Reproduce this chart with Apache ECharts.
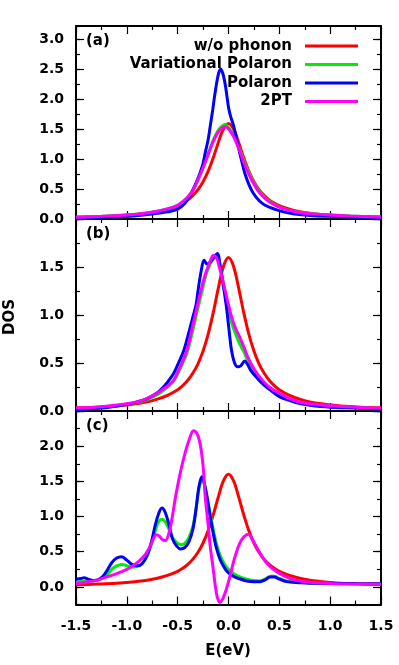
<!DOCTYPE html>
<html><head><meta charset="utf-8">
<script src="https://cdn.jsdelivr.net/npm/echarts@6/dist/echarts.min.js"></script>
<style>html,body{margin:0;padding:0;background:#fff}#c{width:399px;height:665px}</style>
</head><body><div id="c"></div>
<script>
// ---------- data (E in eV, DOS) ----------
const seriesNames = ['w/o phonon', 'Variational Polaron', 'Polaron', '2PT'];
const xTicks = [-1.5, -1.0, -0.5, 0.0, 0.5, 1.0, 1.5];
const yLabelsA = [0.0, 0.5, 1.0, 1.5, 2.0, 2.5, 3.0];
const yLabelsB = [0.0, 0.5, 1.0, 1.5];
const yLabelsC = [0.0, 0.5, 1.0, 1.5, 2.0];

// w/o phonon (same in all panels)
const redDOS = [[-1.5,0.03],[-1.3,0.04],[-1.1,0.052],[-1.0,0.063],[-0.9,0.077],[-0.8,0.095],[-0.7,0.123],[-0.6,0.163],[-0.5,0.222],[-0.45,0.265],[-0.4,0.32],[-0.35,0.395],[-0.3,0.492],[-0.25,0.624],[-0.2,0.8],[-0.15,1.024],[-0.1,1.28],[-0.05,1.506],[0,1.6],[0.05,1.506],[0.1,1.28],[0.15,1.024],[0.2,0.8],[0.25,0.624],[0.3,0.492],[0.35,0.395],[0.4,0.32],[0.45,0.265],[0.5,0.222],[0.6,0.163],[0.7,0.123],[0.8,0.095],[0.9,0.077],[1.0,0.063],[1.1,0.052],[1.3,0.04],[1.5,0.033]];

// panel (a)
const aGreen = [[-1.5,0.03],[-1.25,0.045],[-1.0,0.065],[-0.8,0.1],[-0.7,0.13],[-0.6,0.17],[-0.5,0.23],[-0.45,0.29],[-0.4,0.37],[-0.35,0.48],[-0.3,0.66],[-0.25,0.86],[-0.2,1.09],[-0.15,1.32],[-0.1,1.49],[-0.05,1.57],[-0.03,1.58],[0,1.53],[0.05,1.41],[0.1,1.21],[0.15,0.98],[0.2,0.78],[0.25,0.6],[0.3,0.47],[0.35,0.37],[0.4,0.3],[0.5,0.2],[0.6,0.145],[0.7,0.11],[0.8,0.09],[1.0,0.065],[1.2,0.05],[1.5,0.035]];
const aBlue = [[-1.5,0.02],[-1.25,0.03],[-1.0,0.045],[-0.8,0.075],[-0.7,0.095],[-0.6,0.12],[-0.5,0.165],[-0.43,0.26],[-0.39,0.36],[-0.35,0.49],[-0.31,0.64],[-0.28,0.77],[-0.25,0.93],[-0.23,1.1],[-0.2,1.33],[-0.18,1.55],[-0.155,1.83],[-0.133,2.1],[-0.1,2.42],[-0.077,2.51],[-0.055,2.43],[-0.034,2.27],[-0.015,2.05],[0,1.87],[0.02,1.72],[0.047,1.58],[0.07,1.42],[0.096,1.21],[0.13,0.97],[0.16,0.77],[0.2,0.58],[0.244,0.43],[0.3,0.31],[0.36,0.23],[0.46,0.16],[0.55,0.115],[0.65,0.085],[0.8,0.06],[1.0,0.045],[1.2,0.035],[1.5,0.025]];
const aMagenta = [[-1.5,0.03],[-1.25,0.045],[-1.0,0.065],[-0.8,0.1],[-0.7,0.13],[-0.6,0.17],[-0.5,0.23],[-0.45,0.29],[-0.4,0.37],[-0.35,0.48],[-0.3,0.66],[-0.25,0.86],[-0.2,1.08],[-0.15,1.3],[-0.1,1.46],[-0.05,1.54],[-0.03,1.55],[0,1.51],[0.05,1.38],[0.1,1.18],[0.15,0.95],[0.2,0.75],[0.25,0.58],[0.3,0.45],[0.35,0.36],[0.4,0.29],[0.5,0.2],[0.6,0.145],[0.7,0.11],[0.8,0.09],[1.0,0.065],[1.2,0.05],[1.5,0.035]];

// panel (b)
const bGreen = [[-1.5,0.025],[-1.25,0.04],[-1.0,0.07],[-0.85,0.1],[-0.7,0.17],[-0.6,0.25],[-0.54,0.31],[-0.48,0.43],[-0.41,0.6],[-0.36,0.8],[-0.31,1.03],[-0.26,1.25],[-0.22,1.42],[-0.18,1.53],[-0.15,1.59],[-0.12,1.63],[-0.09,1.55],[-0.05,1.33],[-0.01,1.1],[0.03,0.92],[0.07,0.8],[0.11,0.7],[0.15,0.62],[0.19,0.52],[0.24,0.42],[0.3,0.33],[0.4,0.24],[0.5,0.17],[0.6,0.12],[0.7,0.085],[0.8,0.07],[1.0,0.05],[1.25,0.035],[1.5,0.025]];
const bBlue = [[-1.5,0.015],[-1.25,0.03],[-1.0,0.07],[-0.9,0.095],[-0.8,0.13],[-0.7,0.19],[-0.64,0.25],[-0.6,0.3],[-0.54,0.39],[-0.5,0.48],[-0.44,0.63],[-0.4,0.78],[-0.35,0.98],[-0.32,1.1],[-0.3,1.25],[-0.27,1.45],[-0.24,1.57],[-0.21,1.53],[-0.18,1.55],[-0.14,1.6],[-0.11,1.64],[-0.08,1.5],[-0.05,1.3],[-0.02,1.08],[0.01,0.8],[0.03,0.63],[0.06,0.5],[0.09,0.46],[0.12,0.47],[0.16,0.52],[0.19,0.48],[0.22,0.42],[0.26,0.37],[0.3,0.32],[0.35,0.27],[0.41,0.22],[0.5,0.15],[0.6,0.11],[0.7,0.077],[0.8,0.06],[1.0,0.04],[1.25,0.03],[1.5,0.02]];
const bMagenta = [[-1.5,0.03],[-1.25,0.045],[-1.0,0.075],[-0.85,0.11],[-0.71,0.18],[-0.6,0.26],[-0.54,0.32],[-0.48,0.45],[-0.41,0.63],[-0.36,0.85],[-0.31,1.08],[-0.26,1.3],[-0.22,1.45],[-0.18,1.56],[-0.15,1.62],[-0.12,1.6],[-0.09,1.5],[-0.05,1.33],[-0.01,1.15],[0.03,0.98],[0.07,0.86],[0.11,0.77],[0.15,0.67],[0.19,0.56],[0.25,0.44],[0.31,0.35],[0.4,0.25],[0.51,0.18],[0.6,0.13],[0.7,0.094],[0.8,0.075],[1.0,0.055],[1.25,0.04],[1.5,0.03]];

// panel (c)
const cGreen = [[-1.5,0.07],[-1.4,0.08],[-1.3,0.09],[-1.2,0.16],[-1.15,0.25],[-1.1,0.3],[-1.05,0.32],[-1.0,0.3],[-0.95,0.28],[-0.9,0.29],[-0.85,0.33],[-0.8,0.44],[-0.76,0.6],[-0.72,0.8],[-0.69,0.92],[-0.655,0.96],[-0.62,0.92],[-0.58,0.8],[-0.55,0.7],[-0.51,0.63],[-0.47,0.6],[-0.43,0.62],[-0.39,0.7],[-0.35,0.86],[-0.32,1.1],[-0.29,1.4],[-0.26,1.53],[-0.23,1.42],[-0.2,1.2],[-0.18,1.04],[-0.15,0.82],[-0.12,0.62],[-0.08,0.44],[-0.03,0.3],[0.0,0.25],[0.05,0.19],[0.1,0.15],[0.18,0.11],[0.25,0.09],[0.31,0.085],[0.36,0.11],[0.41,0.15],[0.45,0.15],[0.5,0.12],[0.57,0.085],[0.7,0.065],[0.8,0.055],[1.0,0.05],[1.25,0.047],[1.5,0.045]];
const cBlue = [[-1.5,0.11],[-1.45,0.12],[-1.42,0.13],[-1.38,0.11],[-1.32,0.09],[-1.25,0.13],[-1.2,0.22],[-1.15,0.34],[-1.1,0.41],[-1.05,0.43],[-1.0,0.38],[-0.95,0.32],[-0.9,0.3],[-0.85,0.33],[-0.8,0.45],[-0.76,0.63],[-0.72,0.88],[-0.69,1.03],[-0.655,1.12],[-0.62,1.05],[-0.58,0.85],[-0.55,0.68],[-0.51,0.58],[-0.47,0.54],[-0.43,0.56],[-0.39,0.64],[-0.35,0.82],[-0.32,1.1],[-0.29,1.43],[-0.26,1.57],[-0.23,1.42],[-0.2,1.18],[-0.18,1.0],[-0.15,0.76],[-0.12,0.56],[-0.08,0.38],[-0.03,0.25],[0.0,0.2],[0.05,0.15],[0.1,0.12],[0.18,0.085],[0.25,0.075],[0.31,0.075],[0.36,0.1],[0.41,0.14],[0.45,0.14],[0.5,0.11],[0.57,0.075],[0.7,0.06],[0.8,0.052],[1.0,0.05],[1.25,0.047],[1.5,0.045]];
const cMagenta = [[-1.5,0.05],[-1.4,0.07],[-1.3,0.095],[-1.2,0.14],[-1.1,0.19],[-1.0,0.25],[-0.92,0.32],[-0.84,0.42],[-0.78,0.55],[-0.74,0.68],[-0.71,0.74],[-0.68,0.72],[-0.65,0.67],[-0.62,0.66],[-0.58,0.8],[-0.55,1.02],[-0.52,1.29],[-0.47,1.65],[-0.42,1.94],[-0.38,2.12],[-0.345,2.22],[-0.31,2.18],[-0.28,2.04],[-0.25,1.72],[-0.23,1.3],[-0.2,0.88],[-0.18,0.58],[-0.15,0.25],[-0.13,0.02],[-0.11,-0.15],[-0.085,-0.22],[-0.06,-0.18],[-0.04,-0.11],[-0.02,-0.03],[0.02,0.18],[0.05,0.36],[0.08,0.5],[0.11,0.62],[0.15,0.71],[0.195,0.75],[0.24,0.66],[0.29,0.53],[0.33,0.43],[0.375,0.34],[0.45,0.24],[0.54,0.16],[0.65,0.1],[0.8,0.065],[1.0,0.05],[1.25,0.042],[1.5,0.038]];

// ---------- build chart ----------
const colors = ['#ff0000', '#00ee00', '#0000ff', '#ff00ff'];
const FONT = '"DejaVu Sans", "Liberation Sans", sans-serif';
const panels = [
  {top: 26, height: 193, min: 0, max: 3.23, labels: yLabelsA, data: [redDOS, aGreen, aBlue, aMagenta], tag: '(a)'},
  {top: 219, height: 192, min: 0, max: 2.0, labels: yLabelsB, data: [redDOS, bGreen, bBlue, bMagenta], tag: '(b)'},
  {top: 411, height: 193.5, min: -0.25, max: 2.5, labels: yLabelsC, data: [redDOS, cGreen, cBlue, cMagenta], tag: '(c)'}
];
const grid = [], xAxis = [], yAxis = [], series = [], graphic = [];
const axisLineStyle = {show: true, onZero: false, lineStyle: {color: '#000', width: 2}};
panels.forEach((p, gi) => {
  grid.push({left: 76, width: 305, top: p.top, height: p.height, containLabel: false});
  ['bottom', 'top'].forEach(pos => {
    const showLab = gi === 2 && pos === 'bottom';
    xAxis.push({
      type: 'value', gridIndex: gi, position: pos, min: -1.5, max: 1.5, interval: 0.5,
      axisLine: axisLineStyle,
      axisTick: {show: true, inside: true, length: 8, lineStyle: {color: '#000', width: 1.2}},
      minorTick: {show: true, splitNumber: 2, length: 4, lineStyle: {color: '#000', width: 1.2}},
      splitLine: {show: false},
      axisLabel: {show: showLab, margin: 15, color: '#000', fontWeight: 'bold', fontSize: 14, fontFamily: FONT,
        formatter: v => v.toFixed(1)}
    });
  });
  const majors = [];
  for (let v = Math.ceil(p.min / 0.5) * 0.5; v <= p.max + 1e-9; v += 0.5) majors.push(+v.toFixed(2));
  const yIdx = yAxis.length;
  ['left', 'right'].forEach(pos => {
    yAxis.push({
      type: 'value', gridIndex: gi, position: pos, min: p.min, max: p.max, interval: 0.25,
      axisLine: axisLineStyle,
      axisTick: {show: true, inside: true, length: 4, lineStyle: {color: '#000', width: 1.2}},
      splitLine: {show: false},
      axisLabel: {show: pos === 'left', margin: 12, color: '#000', fontWeight: 'bold', fontSize: 14, fontFamily: FONT,
        formatter: v => {
          const r = Math.round(v * 100) / 100;
          return p.labels.some(l => Math.abs(l - r) < 1e-6) ? Math.abs(r).toFixed(1) : '';
        }}
    });
    yAxis.push({
      type: 'value', gridIndex: gi, position: pos, min: p.min, max: p.max,
      axisLine: {show: false, onZero: false},
      axisTick: {show: true, inside: true, length: 8, customValues: majors, lineStyle: {color: '#000', width: 1.2}},
      splitLine: {show: false},
      axisLabel: {show: false}
    });
  });
  p.data.forEach((d, si) => {
    series.push({
      type: 'line', name: seriesNames[si], xAxisIndex: gi * 2, yAxisIndex: yIdx,
      data: d, smooth: 0.35, showSymbol: false, symbol: 'none', clip: true,
      lineStyle: {color: colors[si], width: 3}, itemStyle: {color: colors[si]},
      emphasis: {disabled: true}
    });
  });
  graphic.push({type: 'text', left: 86, top: p.top + 8,
    style: {text: p.tag, font: 'bold 15px ' + FONT, fill: '#000'}});
});

graphic.push({type: 'text', x: 3, y: 335, rotation: Math.PI / 2,
  style: {text: 'DOS', font: 'bold 15px ' + FONT, fill: '#000', align: 'left', verticalAlign: 'top'}});
graphic.push({type: 'text', x: 228, y: 651,
  style: {text: 'E(eV)', font: 'bold 15px ' + FONT, fill: '#000', align: 'center', verticalAlign: 'middle'}});

const legendTops = [38.5, 57, 75.5, 94];
const legend = seriesNames.map((n, i) => ({
  data: [n], right: 41, top: legendTops[i], padding: 0, orient: 'vertical', align: 'right',
  icon: 'rect', itemWidth: 53, itemHeight: 3, selectedMode: false,
  textStyle: {color: '#000', fontWeight: 'bold', fontSize: 15, fontFamily: FONT, padding: [0, 8, 0, 0]}
}));

const chart = echarts.init(document.getElementById('c'), null, {renderer: 'canvas'});
chart.setOption({animation: false, backgroundColor: '#fff', grid, xAxis, yAxis, series, legend, graphic});
</script></body></html>
